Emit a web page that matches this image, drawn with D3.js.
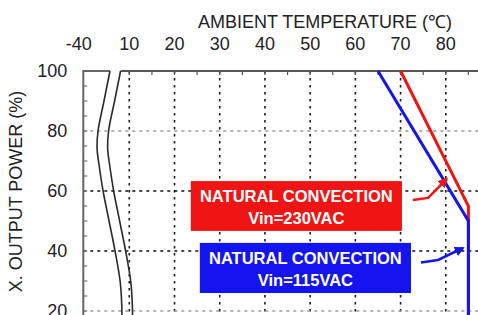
<!DOCTYPE html>
<html><head><meta charset="utf-8">
<script src="https://cdn.jsdelivr.net/npm/d3@7"></script>
<style>body{margin:0;background:#fff} svg{display:block}</style>
</head><body>
<svg id="c" width="478" height="315"></svg>
<script>
// ---- data ----
const tempLabels = [-40, 10, 20, 30, 40, 50, 60, 70, 80];
const tempMinorTicks = [10, 15, 20, 25, 30, 35, 40, 45, 50, 55, 60, 65, 70, 75, 80, 85, 90];
const powerLabels = [20, 40, 60, 80, 100];
const powerMinorTicks = [0, 5, 10, 15, 20, 25, 30, 35, 40, 45, 50, 55, 60, 65, 70, 75, 80, 85, 90, 95];
const vGridTemps = [10, 20, 30, 40, 50, 60, 70, 80];
const hGridPowers = [20, 40, 60, 80];
const derate230Temp = [70, 85, 85];
const derate230Power = [100, 55, 0];
const derate115Temp = [65, 85, 85];
const derate115Power = [100, 50, 0];
// axis-break curve (temperature on the compressed part, % load)
const breakTemp = [-11, -17.5, -24, -25, -23, -18.5, -12, -5.5, 0, 1.8, 2, 2];
const breakPower = [100, 90, 80, 74, 69, 60, 50, 40, 30, 22, 14, 0];
const breakGap = 11.5;
const titleText = "AMBIENT TEMPERATURE (\u2103)";
const yTitleText = "X. OUTPUT POWER (%)";
const notes = [
  {line1: "NATURAL CONVECTION", line2: "Vin=230VAC", t0: 23.6, t1: 70.3, p0: 63.3, p1: 46.7,
   arrowT: [72.7, 76.1, 80.2], arrowP: [57, 57.7, 64], color: "#f01414"},
  {line1: "NATURAL CONVECTION", line2: "Vin=115VAC", t0: 25.6, t1: 72.3, p0: 42.7, p1: 26,
   arrowT: [74.5, 78.3, 83.8], arrowP: [36.2, 37, 41], color: "#1414ee"}
];

// ---- scales ----
const x = d3.scaleLinear().domain([-40, 10, 90]).range([83.3, 129.3, 491]);
const xb = d3.scaleLinear().domain([-40, 10]).range([83.3, 129.3]);
const y = d3.scaleLinear().domain([0, 100]).range([371, 71]);

const svg = d3.select("#c");
const font = "'Liberation Sans', Arial, Helvetica, sans-serif";

// grid
svg.append("g").selectAll("line").data(vGridTemps).join("line")
  .attr("x1", d => x(d)).attr("x2", d => x(d)).attr("y1", y(100)).attr("y2", y(0))
  .attr("stroke", "#1a1a1a").attr("stroke-width", 1.6).attr("stroke-dasharray", "2.5,4.5");
svg.append("g").selectAll("line").data(hGridPowers).join("line")
  .attr("x1", x(-40)).attr("x2", 478).attr("y1", d => y(d)).attr("y2", d => y(d))
  .attr("stroke", d => (d === 40 || d === 60) ? "#111" : "#9a9a9a")
  .attr("stroke-width", 1.6).attr("stroke-dasharray", "3,4");

// ticks
svg.append("g").selectAll("line").data(tempMinorTicks).join("line")
  .attr("x1", d => x(d)).attr("x2", d => x(d)).attr("y1", y(100)).attr("y2", y(100) + 4)
  .attr("stroke", "#555").attr("stroke-width", 1.2);
svg.append("g").selectAll("line").data(powerMinorTicks).join("line")
  .attr("x1", x(-40)).attr("x2", x(-40) + 4).attr("y1", d => y(d)).attr("y2", d => y(d))
  .attr("stroke", "#777").attr("stroke-width", 1.2);

// frame with break
const bTop1 = xb(breakTemp[0]), bTop2 = xb(breakTemp[0] + breakGap);
svg.append("path")
  .attr("d", `M${x(-40)},${y(0)}V${y(100)}H${bTop1}`)
  .attr("fill", "none").attr("stroke", "#666").attr("stroke-width", 2);
svg.append("line").attr("x1", bTop2).attr("x2", 480).attr("y1", y(100)).attr("y2", y(100))
  .attr("stroke", "#555").attr("stroke-width", 2);

const breakLine = d3.line().curve(d3.curveCatmullRom.alpha(0.5));
[0, breakGap].forEach(g => {
  svg.append("path")
    .attr("d", breakLine(breakTemp.map((t, i) => [xb(t + g), y(breakPower[i])])))
    .attr("fill", "none").attr("stroke", "#2a2a2a").attr("stroke-width", 1.6);
});

// derating curves
const line = d3.line();
svg.append("path")
  .attr("d", line(derate230Temp.map((t, i) => [x(t), y(derate230Power[i])])))
  .attr("fill", "none").attr("stroke", "#f01414").attr("stroke-width", 3).attr("stroke-linejoin", "miter");
svg.append("path")
  .attr("d", line(derate115Temp.map((t, i) => [x(t), y(derate115Power[i])])))
  .attr("fill", "none").attr("stroke", "#1414ee").attr("stroke-width", 3).attr("stroke-linejoin", "miter");

// annotations
const defs = svg.append("defs");
notes.forEach((n, k) => {
  defs.append("marker").attr("id", "ah" + k).attr("viewBox", "0 0 10 10")
    .attr("refX", 8).attr("refY", 5).attr("markerWidth", 4).attr("markerHeight", 4)
    .attr("markerUnits", "strokeWidth").attr("orient", "auto")
    .append("path").attr("d", "M0,0L10,5L0,10Z").attr("fill", n.color);
  svg.append("rect")
    .attr("x", x(n.t0)).attr("y", y(n.p0))
    .attr("width", x(n.t1) - x(n.t0)).attr("height", y(n.p1) - y(n.p0))
    .attr("fill", n.color);
  const cx = (x(n.t0) + x(n.t1)) / 2;
  svg.append("text").attr("x", cx).attr("y", y(n.p0) + 21)
    .attr("text-anchor", "middle").attr("fill", "#fff").attr("font-weight", "bold")
    .attr("font-family", font).attr("font-size", 16.5).text(n.line1);
  svg.append("text").attr("x", cx).attr("y", y(n.p0) + 43)
    .attr("text-anchor", "middle").attr("fill", "#fff").attr("font-weight", "bold")
    .attr("font-family", font).attr("font-size", 16.5).text(n.line2);
  svg.append("path")
    .attr("d", line(n.arrowT.map((t, i) => [x(t), y(n.arrowP[i])])))
    .attr("fill", "none").attr("stroke", n.color).attr("stroke-width", 2.5)
    .attr("marker-end", `url(#ah${k})`);
});

// labels
svg.append("g").selectAll("text").data(tempLabels).join("text")
  .attr("x", d => x(d) + (d < 0 ? -4.5 : 0)).attr("y", 50)
  .attr("text-anchor", "middle").attr("font-family", font).attr("font-size", 18)
  .attr("fill", "#222").text(d => d);
svg.append("g").selectAll("text").data(powerLabels).join("text")
  .attr("x", x(-40) - 16).attr("y", d => y(d)).attr("dy", "0.35em")
  .attr("text-anchor", "end").attr("font-family", font).attr("font-size", 18)
  .attr("fill", "#222").text(d => d);
svg.append("text").attr("x", 325).attr("y", 28).attr("text-anchor", "middle")
  .attr("font-family", font).attr("font-size", 18).attr("fill", "#222").text(titleText);
svg.append("text").attr("transform", "translate(21.7,191.5) rotate(-90)")
  .attr("text-anchor", "middle").attr("font-family", font).attr("font-size", 18)
  .attr("fill", "#222").text(yTitleText);
</script>
</body></html>
